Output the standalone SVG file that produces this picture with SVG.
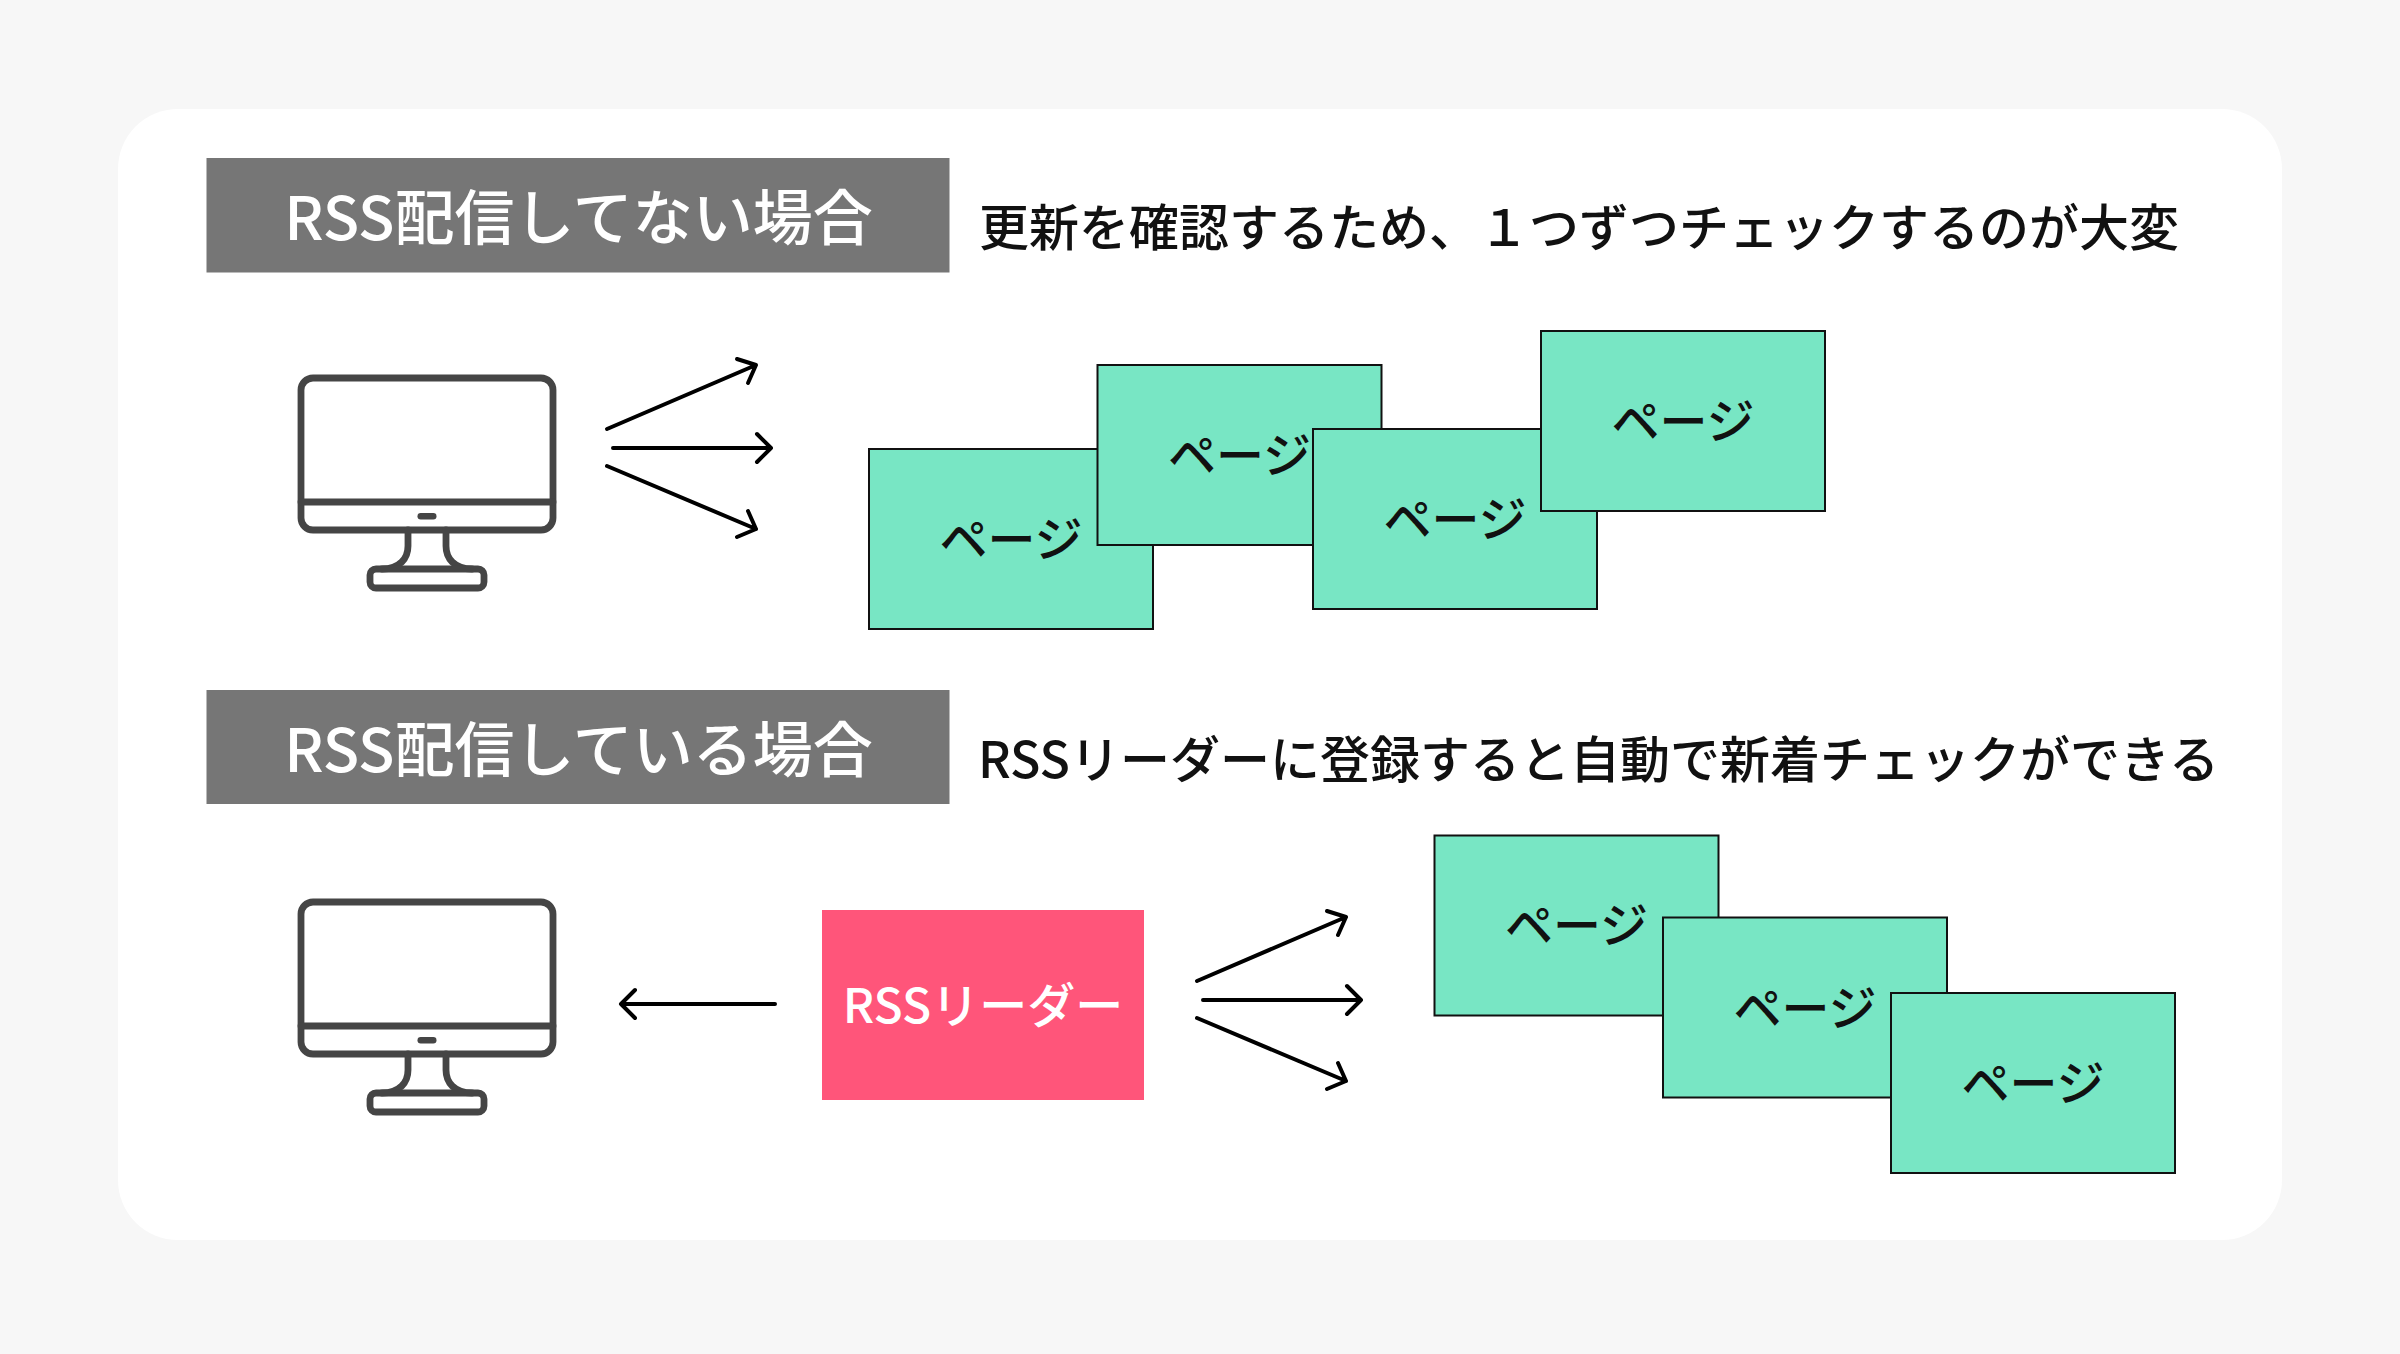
<svg xmlns="http://www.w3.org/2000/svg" width="2400" height="1354" viewBox="0 0 2400 1354">
<style>
text{font-family:"Noto Sans CJK JP","Noto Sans",sans-serif;font-weight:500}
.hb{fill:#767676}
.ht{fill:#fff;font-size:60px;text-anchor:middle}
.sub{fill:#111;font-size:50px}
.pg{fill:#78e6c4;stroke:#111;stroke-width:2}
.pt{fill:#111;font-size:48px;text-anchor:middle}
.m{fill:none;stroke:#454545;stroke-width:6.8;stroke-linejoin:round;stroke-linecap:round}
.a{fill:none;stroke:#000;stroke-width:4;stroke-linecap:round;stroke-linejoin:round}
</style>
<defs>
<g id="mon">
<rect class="m" x="301" y="378" width="252" height="152" rx="12"/>
<path class="m" d="M301 502H553"/>
<rect x="417.500" y="513" width="19" height="6.500" rx="3.200" fill="#454545"/>
<path class="m" d="M408 530V546C408 558 400 569 382 569M446 530V546C446 558 454 569 472 569"/>
<rect class="m" x="370" y="569" width="114" height="19" rx="6"/>
</g>
<g id="fan">
<path class="a" d="M607 429L756 365M737 359L756 365L748 383"/>
<path class="a" d="M613 448H771M757 434L771 448L757 462"/>
<path class="a" d="M607 466L756 529M748 511L756 529L737 537"/>
</g>
</defs>
<rect width="2400" height="1354" fill="#f7f7f7"/>
<rect x="118" y="109" width="2164" height="1131" rx="60" fill="#fff"/>
<g id="connectors">
<use href="#fan"/>
<use href="#fan" x="590" y="552"/>
<path class="a" d="M775 1004H621M635 990L621 1004L635 1018"/>
</g>
<g id="header-1"><rect class="hb" x="206.500" y="158" width="743" height="114.500"/><text class="ht" x="578.500" y="240">RSS配信してない場合</text></g>
<g id="caption-1"><text class="sub" x="979" y="246">更新を確認するため、１つずつチェックするのが大変</text></g>
<g id="monitor-1"><use href="#mon"/></g>
<g id="page-1"><rect class="pg" x="869" y="449" width="284" height="180"/><text class="pt" x="1011" y="557">ページ</text></g>
<g id="page-2"><rect class="pg" x="1097.500" y="365" width="284" height="180"/><text class="pt" x="1239.500" y="473">ページ</text></g>
<g id="page-3"><rect class="pg" x="1313" y="429" width="284" height="180"/><text class="pt" x="1455" y="537">ページ</text></g>
<g id="page-4"><rect class="pg" x="1541" y="331" width="284" height="180"/><text class="pt" x="1683" y="439">ページ</text></g>
<g id="header-2"><rect class="hb" x="206.500" y="690" width="743" height="114"/><text class="ht" x="578.500" y="772">RSS配信している場合</text></g>
<g id="caption-2"><text class="sub" x="978" y="778">RSSリーダーに登録すると自動で新着チェックができる</text></g>
<g id="monitor-2"><use href="#mon" y="524"/></g>
<g id="rss-reader"><rect x="822" y="910" width="322" height="190" fill="#ff557a"/><text x="983" y="1023" fill="#fff" font-size="48" text-anchor="middle">RSSリーダー</text></g>
<g id="page-5"><rect class="pg" x="1434.500" y="835.500" width="284" height="180"/><text class="pt" x="1576.500" y="943">ページ</text></g>
<g id="page-6"><rect class="pg" x="1663" y="917.500" width="284" height="180"/><text class="pt" x="1805" y="1025.500">ページ</text></g>
<g id="page-7"><rect class="pg" x="1891" y="993" width="284" height="180"/><text class="pt" x="2033" y="1101">ページ</text></g>
</svg>
